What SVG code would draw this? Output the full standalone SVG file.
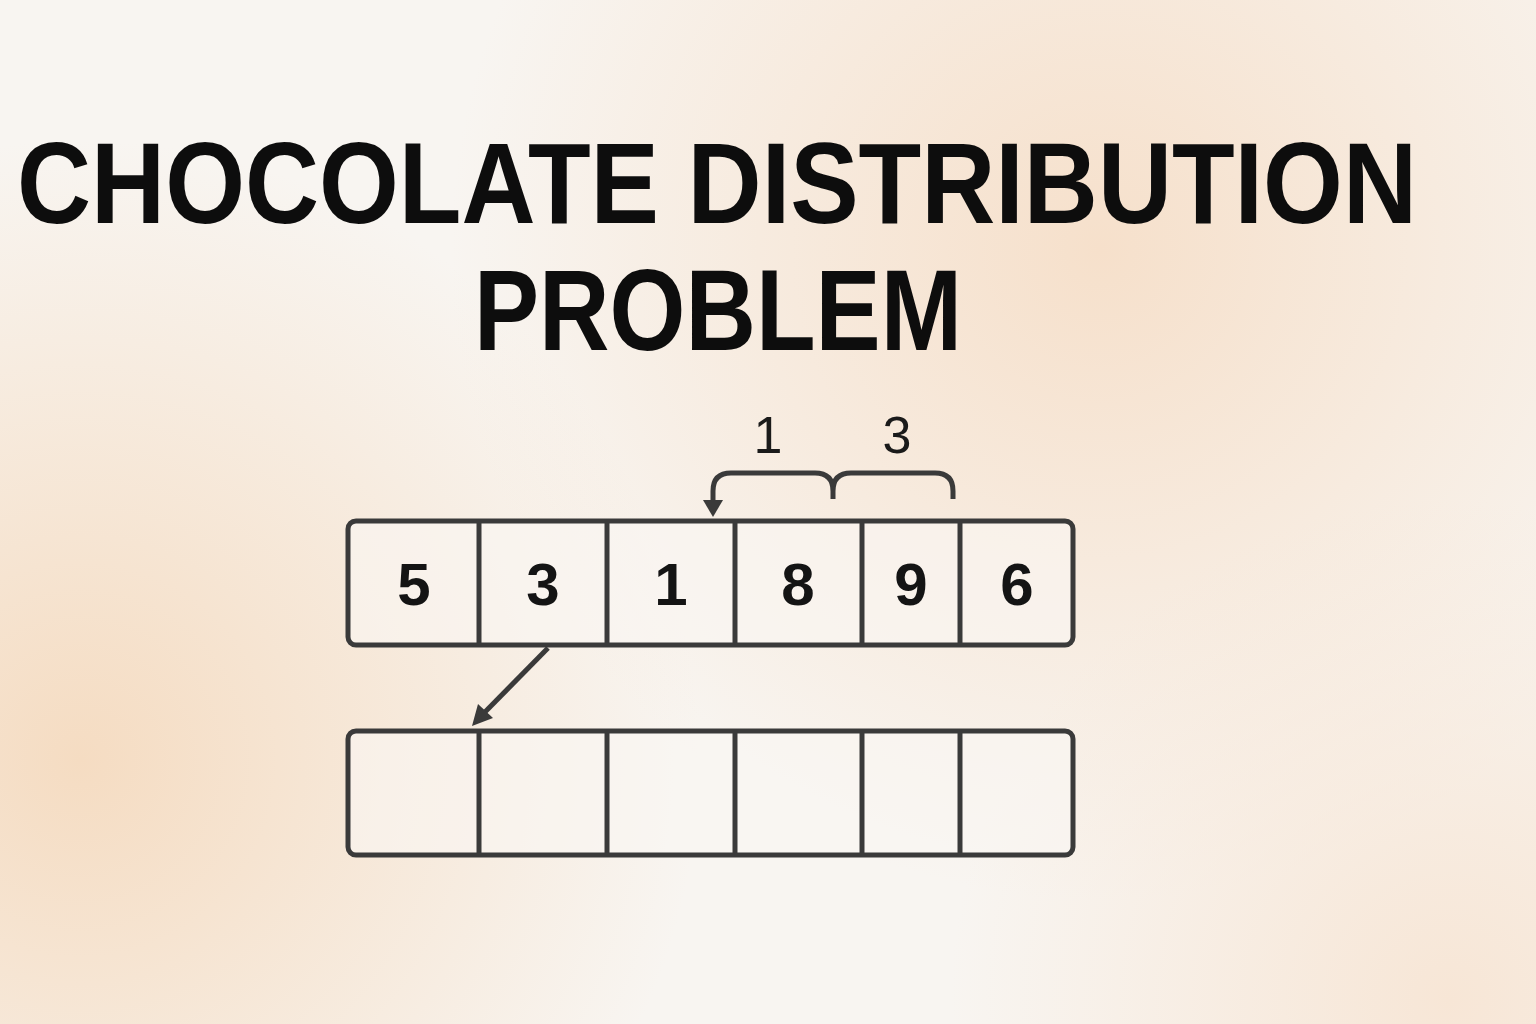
<svg xmlns="http://www.w3.org/2000/svg" width="1536" height="1024" viewBox="0 0 1536 1024">
  <defs>
    <radialGradient id="g1" cx="80" cy="760" r="620" gradientUnits="userSpaceOnUse">
      <stop offset="0" stop-color="#f5dcc2"/>
      <stop offset="1" stop-color="#f5dcc2" stop-opacity="0"/>
    </radialGradient>
    <radialGradient id="g2" cx="1100" cy="250" r="650" gradientUnits="userSpaceOnUse">
      <stop offset="0" stop-color="#f6e0cb"/>
      <stop offset="1" stop-color="#f6e0cb" stop-opacity="0"/>
    </radialGradient>
    <radialGradient id="g3" cx="1450" cy="1000" r="500" gradientUnits="userSpaceOnUse">
      <stop offset="0" stop-color="#f7e6d6"/>
      <stop offset="1" stop-color="#f7e6d6" stop-opacity="0"/>
    </radialGradient>
    <style>
      .title{font-family:"Liberation Sans",Arial,sans-serif;font-weight:bold;fill:#0d0d0d;text-anchor:middle}
      .num{font-family:"Liberation Sans",Arial,sans-serif;font-weight:bold;font-size:60px;fill:#141414;text-anchor:middle}
      .lab{font-family:"Liberation Sans",Arial,sans-serif;font-size:52px;fill:#1a1a1a;text-anchor:middle}
      .frame{fill:#faf7f3;fill-opacity:0.6;stroke:#3a3a3a;stroke-width:5}
      .div{stroke:#3a3a3a;stroke-width:5}
      .conn{fill:none;stroke:#3a3a3a;stroke-width:5;stroke-linecap:butt}
    </style>
  </defs>
  <rect width="1536" height="1024" fill="#f8f5f1"/>
  <rect width="1536" height="1024" fill="url(#g1)"/>
  <rect width="1536" height="1024" fill="url(#g2)"/>
  <rect width="1536" height="1024" fill="url(#g3)"/>

  <g id="title">
    <text class="title" transform="translate(717,223) scale(1,1.12)" x="0" y="0" font-size="102" textLength="1400" lengthAdjust="spacingAndGlyphs">CHOCOLATE DISTRIBUTION</text>
    <text class="title" transform="translate(718,350) scale(1,1.12)" x="0" y="0" font-size="102" textLength="488" lengthAdjust="spacingAndGlyphs">PROBLEM</text>
  </g>

  <g id="top-array">
    <rect class="frame" x="348" y="521" width="725" height="124" rx="8"/>
    <line class="div" x1="479" y1="521" x2="479" y2="645"/>
    <line class="div" x1="607" y1="521" x2="607" y2="645"/>
    <line class="div" x1="735" y1="521" x2="735" y2="645"/>
    <line class="div" x1="862" y1="521" x2="862" y2="645"/>
    <line class="div" x1="960" y1="521" x2="960" y2="645"/>
    <text class="num" x="414" y="605">5</text>
    <text class="num" x="543" y="605">3</text>
    <text class="num" x="671" y="605">1</text>
    <text class="num" x="798" y="605">8</text>
    <text class="num" x="911" y="605">9</text>
    <text class="num" x="1017" y="605">6</text>
  </g>

  <g id="bottom-array">
    <rect class="frame" x="348" y="731" width="725" height="124" rx="8"/>
    <line class="div" x1="479" y1="731" x2="479" y2="855"/>
    <line class="div" x1="607" y1="731" x2="607" y2="855"/>
    <line class="div" x1="735" y1="731" x2="735" y2="855"/>
    <line class="div" x1="862" y1="731" x2="862" y2="855"/>
    <line class="div" x1="960" y1="731" x2="960" y2="855"/>
  </g>

  <g id="labels">
    <text class="lab" x="768" y="453">1</text>
    <text class="lab" x="897" y="453">3</text>
  </g>

  <g id="connectors">
    <path class="conn" d="M713,502 V491 Q713,473 731,473 H815 Q833,473 833,491 V499 M833,491 Q833,473 851,473 H935 Q953,473 953,491 V499"/>
    <polygon points="713,517 703,500 723,500" fill="#3a3a3a"/>
    <line class="conn" x1="548" y1="648" x2="485" y2="712"/>
    <polygon points="472,726 478,704 493,718" fill="#3a3a3a"/>
  </g>
</svg>
